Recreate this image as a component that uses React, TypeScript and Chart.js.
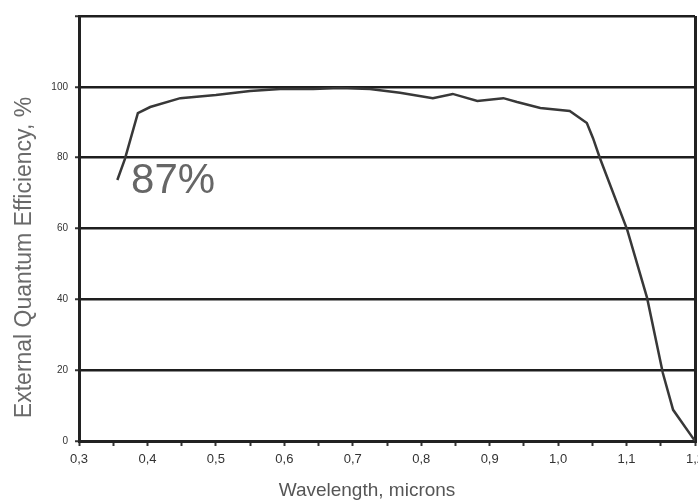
import React, { useEffect, useRef } from "react";
import { Chart, registerables } from "chart.js";

Chart.register(...registerables);

const wavelengths = [
  0.356, 0.367, 0.386, 0.404, 0.448, 0.5, 0.55, 0.594, 0.642, 0.681, 0.725,
  0.769, 0.817, 0.846, 0.882, 0.92, 0.94, 0.974, 1.017, 1.042, 1.051, 1.061,
  1.101, 1.13, 1.153, 1.168, 1.196, 1.2,
];
const efficiency = [
  73.7, 79.6, 92.6, 94.3, 96.8, 97.7, 98.8, 99.4, 99.4, 99.7, 99.4, 98.3,
  96.8, 98.0, 96.0, 96.8, 95.7, 94.0, 93.2, 89.8, 85.5, 79.9, 59.6, 40.4,
  19.2, 8.8, 1.1, 0,
];
const yTickValues = [0, 20, 40, 60, 80, 100];
const xLabelValues = [0.3, 0.4, 0.5, 0.6, 0.7, 0.8, 0.9, 1.0, 1.1, 1.2];
const yTitle = "External Quantum Efficiency, %";
const xTitle = "Wavelength, microns";
const note = { text: "87%", x: 0.376, y: 70.0 };

export default function App() {
  const ref = useRef<HTMLCanvasElement | null>(null);

  useEffect(() => {
    document.body.style.margin = "0";
    const canvas = ref.current;
    if (!canvas) return;

    const textPlugin = {
      id: "textPlugin",
      afterDraw(chart: any) {
        const { ctx, chartArea, scales } = chart;
        ctx.save();
        ctx.translate(chartArea.left - 54, (chartArea.top + chartArea.bottom) / 2 + 29);
        ctx.rotate(-Math.PI / 2);
        ctx.font = '23px "Liberation Sans", Arial, sans-serif';
        ctx.fillStyle = "#6a6a6a";
        ctx.textAlign = "center";
        ctx.textBaseline = "middle";
        ctx.fillText(yTitle, 0, 0);
        ctx.restore();

        ctx.save();
        ctx.font = '19px "Liberation Sans", Arial, sans-serif';
        ctx.fillStyle = "#555";
        ctx.textAlign = "center";
        ctx.textBaseline = "alphabetic";
        ctx.fillText(xTitle, 367, chartArea.bottom + 55);
        ctx.restore();

        ctx.save();
        ctx.font = '42px "Liberation Sans", Arial, sans-serif';
        ctx.fillStyle = "#666";
        ctx.textAlign = "left";
        ctx.textBaseline = "alphabetic";
        ctx.fillText(
          note.text,
          scales.x.getPixelForValue(note.x),
          scales.y.getPixelForValue(note.y)
        );
        ctx.restore();
      },
    };

    const chart = new Chart(canvas, {
      type: "scatter",
      data: {
        datasets: [
          {
            data: wavelengths.map((w, i) => ({ x: w, y: efficiency[i] })),
            showLine: true,
            borderColor: "#383838",
            borderWidth: 2.5,
            pointRadius: 0,
            tension: 0,
          },
        ],
      },
      options: {
        animation: false,
        responsive: false,
        layout: { padding: { top: 16, right: 3, left: 0, bottom: 0 } },
        plugins: { legend: { display: false }, tooltip: { enabled: false } },
        scales: {
          x: {
            type: "linear",
            min: 0.3,
            max: 1.2,
            afterFit: (s: any) => {
              s.height = 62;
              s.paddingLeft = 0;
              s.paddingRight = 0;
            },
            ticks: {
              stepSize: 0.05,
              autoSkip: false,
              maxRotation: 0,
              padding: 6,
              color: "#333",
              font: { size: 13, family: '"Liberation Sans", Arial, sans-serif' },
              callback: (v: any) => {
                const r = Math.round(Number(v) * 100);
                const match = xLabelValues.some((l) => Math.round(l * 100) === r);
                return match ? (r / 100).toFixed(1).replace(".", ",") : "";
              },
            },
            grid: {
              drawOnChartArea: true,
              color: (c: any) =>
                c.tick && Math.abs(c.tick.value - 1.2) < 1e-6 ? "#222" : "rgba(0,0,0,0)",
              lineWidth: 3,
              tickColor: "#333",
              tickLength: 5,
              tickWidth: 2,
            },
            border: { display: true, color: "#222", width: 3 },
          },
          y: {
            min: 0,
            max: 120,
            afterFit: (s: any) => {
              s.width = 79;
            },
            ticks: {
              stepSize: 20,
              padding: 7,
              color: "#333",
              font: { size: 10, family: '"Liberation Sans", Arial, sans-serif' },
              callback: (v: any) => (yTickValues.includes(Number(v)) ? String(v) : ""),
            },
            grid: {
              color: "#1e1e1e",
              lineWidth: 2.5,
              tickColor: "#333",
              tickLength: 4,
              tickWidth: 2,
            },
            border: { display: true, color: "#222", width: 3 },
          },
        },
      },
      plugins: [textPlugin],
    });

    return () => chart.destroy();
  }, []);

  return (
    <div style={{ width: 698, height: 503, background: "#fff" }}>
      <canvas ref={ref} width={698} height={503} />
    </div>
  );
}
